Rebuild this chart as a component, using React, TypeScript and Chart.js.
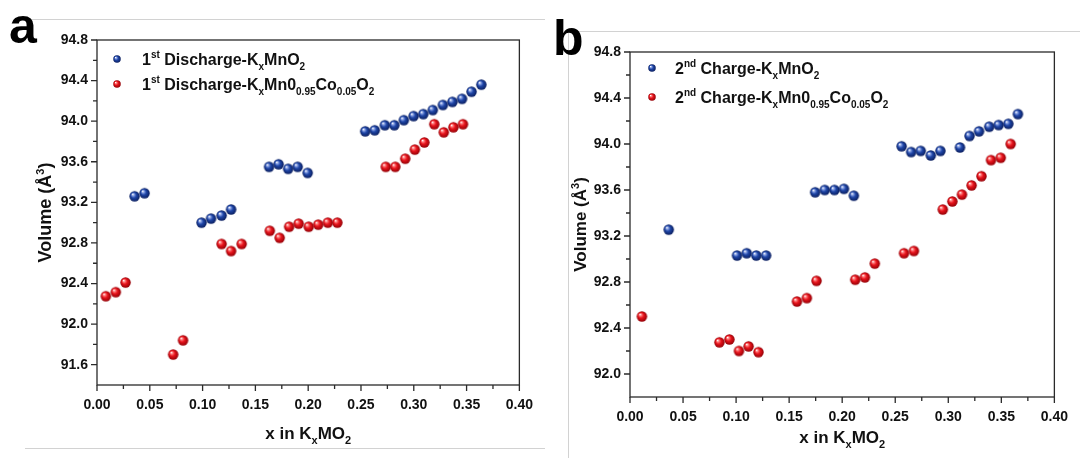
import React, { useEffect, useRef } from "react";
import { Chart, registerables } from "chart.js";

Chart.register(...registerables);

const FONT = 'Arial, "Liberation Sans", Helvetica, sans-serif';

// ---------- data ----------
const xTickValues = [0, 0.05, 0.1, 0.15, 0.2, 0.25, 0.3, 0.35, 0.4];
const yTickValuesA = [91.6, 92.0, 92.4, 92.8, 93.2, 93.6, 94.0, 94.4, 94.8];
const yTickValuesB = [92.0, 92.4, 92.8, 93.2, 93.6, 94.0, 94.4, 94.8];

// Panel a: 1st discharge
const aBlueX = [0.0356, 0.045, 0.099, 0.108, 0.118, 0.127, 0.163, 0.172, 0.181, 0.19, 0.1995, 0.254, 0.263, 0.2726, 0.2816, 0.2906, 0.2998, 0.309, 0.318, 0.3276, 0.3366, 0.3457, 0.3547, 0.364];
const aBlueY = [93.26, 93.29, 93.0, 93.04, 93.07, 93.13, 93.55, 93.575, 93.53, 93.55, 93.49, 93.9, 93.91, 93.96, 93.96, 94.01, 94.05, 94.07, 94.11, 94.16, 94.19, 94.22, 94.29, 94.36];
const aRedX = [0.0084, 0.0178, 0.027, 0.0721, 0.0815, 0.118, 0.127, 0.137, 0.1636, 0.173, 0.182, 0.191, 0.2005, 0.2095, 0.2186, 0.2276, 0.2735, 0.2825, 0.2919, 0.301, 0.31, 0.3194, 0.3284, 0.3375, 0.3466];
const aRedY = [92.275, 92.315, 92.41, 91.7, 91.84, 92.79, 92.72, 92.79, 92.92, 92.85, 92.96, 92.99, 92.96, 92.98, 93.0, 93.0, 93.55, 93.55, 93.63, 93.72, 93.79, 93.97, 93.89, 93.94, 93.97];

// Panel b: 2nd charge
const bBlueX = [0.0365, 0.1009, 0.11, 0.119, 0.1283, 0.1745, 0.1836, 0.1927, 0.2017, 0.211, 0.256, 0.265, 0.274, 0.2835, 0.2926, 0.311, 0.32, 0.329, 0.3386, 0.3475, 0.3566, 0.3656];
const bBlueY = [93.255, 93.03, 93.05, 93.03, 93.03, 93.58, 93.6, 93.6, 93.61, 93.55, 93.98, 93.93, 93.94, 93.9, 93.94, 93.97, 94.07, 94.11, 94.15, 94.165, 94.175, 94.26];
const bRedX = [0.0112, 0.0843, 0.0937, 0.1027, 0.1118, 0.1211, 0.1574, 0.1667, 0.1758, 0.2123, 0.2214, 0.2307, 0.2583, 0.2676, 0.2948, 0.3038, 0.3129, 0.322, 0.3313, 0.3403, 0.3494, 0.3588];
const bRedY = [92.5, 92.275, 92.3, 92.2, 92.24, 92.19, 92.63, 92.66, 92.81, 92.82, 92.84, 92.96, 93.05, 93.07, 93.43, 93.5, 93.56, 93.64, 93.72, 93.86, 93.88, 94.0];

type Seg = { t: string; m?: "sub" | "sup" };

const legendA: Seg[][] = [
  [{ t: "1" }, { t: "st", m: "sup" }, { t: " Discharge-K" }, { t: "x", m: "sub" }, { t: "MnO" }, { t: "2", m: "sub" }],
  [{ t: "1" }, { t: "st", m: "sup" }, { t: " Discharge-K" }, { t: "x", m: "sub" }, { t: "Mn0" }, { t: "0.95", m: "sub" }, { t: "Co" }, { t: "0.05", m: "sub" }, { t: "O" }, { t: "2", m: "sub" }],
];
const legendB: Seg[][] = [
  [{ t: "2" }, { t: "nd", m: "sup" }, { t: " Charge-K" }, { t: "x", m: "sub" }, { t: "MnO" }, { t: "2", m: "sub" }],
  [{ t: "2" }, { t: "nd", m: "sup" }, { t: " Charge-K" }, { t: "x", m: "sub" }, { t: "Mn0" }, { t: "0.95", m: "sub" }, { t: "Co" }, { t: "0.05", m: "sub" }, { t: "O" }, { t: "2", m: "sub" }],
];
const xTitle: Seg[] = [{ t: "x in K" }, { t: "x", m: "sub" }, { t: "MO" }, { t: "2", m: "sub" }];
const yTitle: Seg[] = [{ t: "Volume (Å" }, { t: "3", m: "sup" }, { t: ")" }];

// ---------- helpers ----------
function makeSprite(light: string, color: string, dark: string, d: number): HTMLCanvasElement {
  const c = document.createElement("canvas");
  const size = Math.ceil(d) + 2;
  c.width = size;
  c.height = size;
  const ctx = c.getContext("2d")!;
  const cx = size / 2, cy = size / 2, r = d / 2;
  const g = ctx.createRadialGradient(cx - r * 0.38, cy - r * 0.42, r * 0.04, cx, cy, r);
  g.addColorStop(0, "#ffffff");
  g.addColorStop(0.2, light);
  g.addColorStop(0.5, color);
  g.addColorStop(1, dark);
  ctx.fillStyle = g;
  ctx.beginPath();
  ctx.arc(cx, cy, r, 0, Math.PI * 2);
  ctx.fill();
  return c;
}

function segFont(size: number, small: number, s: Seg) {
  return `bold ${s.m ? small : size}px ${FONT}`;
}

function richWidth(ctx: CanvasRenderingContext2D, segs: Seg[], size: number, small: number) {
  let w = 0;
  for (const s of segs) {
    ctx.font = segFont(size, small, s);
    w += ctx.measureText(s.t).width;
  }
  return w;
}

function drawRich(ctx: CanvasRenderingContext2D, segs: Seg[], x: number, y: number, size: number, small: number, align: "left" | "center") {
  let cx = x;
  if (align === "center") cx = x - richWidth(ctx, segs, size, small) / 2;
  ctx.textAlign = "left";
  ctx.textBaseline = "alphabetic";
  ctx.fillStyle = "#111";
  for (const s of segs) {
    ctx.font = segFont(size, small, s);
    const dy = s.m === "sub" ? size * 0.3 : s.m === "sup" ? -size * 0.42 : 0;
    ctx.fillText(s.t, cx, y + dy);
    cx += ctx.measureText(s.t).width;
  }
}

type PanelCfg = {
  left: number;
  w: number;
  h: number;
  area: { l: number; r: number; t: number; b: number };
  yMin: number;
  yTicks: number[];
  blue: { x: number; y: number }[];
  red: { x: number; y: number }[];
  legend: Seg[][];
  legendX: number;
  legendY: number[];
  textX: number;
  letter: string;
  letterX: number;
  letterY: number;
  yTitleX: number;
  yTitleSize: number;
  xTitleY: number;
  xTitleSize: number;
};

function Panel({ cfg }: { cfg: PanelCfg }) {
  const ref = useRef<HTMLCanvasElement>(null);
  useEffect(() => {
    const blueSprite = makeSprite("#8ea6e6", "#1f46a8", "#0b1f60", 10.4);
    const redSprite = makeSprite("#ff8080", "#e8141c", "#940006", 10.4);
    const blueSmall = makeSprite("#8ea6e6", "#1f46a8", "#0b1f60", 7.5);
    const redSmall = makeSprite("#ff8080", "#e8141c", "#940006", 7.5);
    const AX = "#2a2a2a";

    const overlay = {
      id: "overlay",
      afterDraw(chart: any) {
        const ctx: CanvasRenderingContext2D = chart.ctx;
        const { left, right, top, bottom } = chart.chartArea;
        const xs = chart.scales.x;
        const ys = chart.scales.y;
        ctx.save();
        // frame
        ctx.strokeStyle = AX;
        ctx.lineWidth = 1.3;
        ctx.strokeRect(left, top, right - left, bottom - top);
        // x ticks
        ctx.beginPath();
        for (let i = 0; i < xTickValues.length; i++) {
          const px = xs.getPixelForValue(xTickValues[i]);
          ctx.moveTo(px, bottom);
          ctx.lineTo(px, bottom + 6);
          if (i < xTickValues.length - 1) {
            const mx = xs.getPixelForValue((xTickValues[i] + xTickValues[i + 1]) / 2);
            ctx.moveTo(mx, bottom);
            ctx.lineTo(mx, bottom + 4);
          }
        }
        // y ticks
        const yt = cfg.yTicks;
        for (let i = 0; i < yt.length; i++) {
          const py = ys.getPixelForValue(yt[i]);
          ctx.moveTo(left, py);
          ctx.lineTo(left - 6, py);
          if (i < yt.length - 1) {
            const my = ys.getPixelForValue((yt[i] + yt[i + 1]) / 2);
            ctx.moveTo(left, my);
            ctx.lineTo(left - 4, my);
          }
        }
        ctx.stroke();

        // legend
        const sprites = [blueSmall, redSmall];
        cfg.legend.forEach((segs, i) => {
          const sp = sprites[i];
          const my = cfg.legendY[i];
          ctx.drawImage(sp, Math.round(cfg.legendX - sp.width / 2), Math.round(my - sp.height / 2));
          drawRich(ctx, segs, cfg.textX, my + 5.8, 16, 10, "left");
        });

        // x title
        drawRich(ctx, xTitle, (left + right) / 2, cfg.xTitleY + cfg.xTitleSize * 0.36, cfg.xTitleSize, 11, "center");
        // y title
        ctx.save();
        ctx.translate(cfg.yTitleX, (top + bottom) / 2);
        ctx.rotate(-Math.PI / 2);
        drawRich(ctx, yTitle, 0, cfg.yTitleSize * 0.36, cfg.yTitleSize, 11, "center");
        ctx.restore();

        // panel letter
        ctx.font = `bold 50px ${FONT}`;
        ctx.fillStyle = "#000";
        ctx.textAlign = "left";
        ctx.textBaseline = "alphabetic";
        ctx.fillText(cfg.letter, cfg.letterX, cfg.letterY);
        ctx.restore();
      },
    };

    const chart = new Chart(ref.current!, {
      type: "scatter",
      data: {
        datasets: [
          {
            label: "blue",
            data: cfg.blue,
            pointStyle: blueSprite as any,
            pointRadius: 5,
            pointHoverRadius: 5,
          },
          {
            label: "red",
            data: cfg.red,
            pointStyle: redSprite as any,
            pointRadius: 5,
            pointHoverRadius: 5,
          },
        ],
      },
      options: {
        responsive: false,
        animation: false,
        devicePixelRatio: 1,
        events: [],
        layout: {
          padding: { left: 0, top: cfg.area.t, right: cfg.w - cfg.area.r, bottom: 0 },
        },
        plugins: {
          legend: { display: false },
          tooltip: { enabled: false },
          title: { display: false },
        },
        scales: {
          x: {
            type: "linear",
            min: 0,
            max: 0.4,
            afterBuildTicks: (s: any) => {
              s.ticks = xTickValues.map((v) => ({ value: v }));
            },
            afterFit: (s: any) => {
              s.height = cfg.h - cfg.area.b;
            },
            grid: { display: false, drawTicks: false },
            border: { display: false },
            ticks: {
              autoSkip: false,
              maxRotation: 0,
              padding: 12,
              color: "#111",
              font: { family: FONT, size: 14, weight: "bold" },
              callback: (v: any) => Number(v).toFixed(2),
            },
          },
          y: {
            type: "linear",
            min: cfg.yMin,
            max: 94.8,
            afterBuildTicks: (s: any) => {
              s.ticks = cfg.yTicks.map((v) => ({ value: v }));
            },
            afterFit: (s: any) => {
              s.width = cfg.area.l;
            },
            grid: { display: false, drawTicks: false },
            border: { display: false },
            ticks: {
              autoSkip: false,
              padding: 9,
              color: "#111",
              font: { family: FONT, size: 14, weight: "bold" },
              callback: (v: any) => Number(v).toFixed(1),
            },
          },
        },
      } as any,
      plugins: [overlay],
    });
    return () => chart.destroy();
  }, []);
  return (
    <canvas
      ref={ref}
      width={cfg.w}
      height={cfg.h}
      style={{ position: "absolute", left: cfg.left, top: 0, width: cfg.w, height: cfg.h }}
    />
  );
}

const zip = (xs: number[], ys: number[]) => xs.map((x, i) => ({ x, y: ys[i] }));

const panelA: PanelCfg = {
  left: 0,
  w: 545,
  h: 458,
  area: { l: 97, r: 524, t: 40, b: 385 },
  yMin: 91.4,
  yTicks: yTickValuesA,
  blue: zip(aBlueX, aBlueY),
  red: zip(aRedX, aRedY),
  legend: legendA,
  legendX: 117,
  legendY: [59, 84],
  textX: 142,
  letter: "a",
  letterX: 9,
  letterY: 43,
  yTitleX: 45,
  yTitleSize: 18,
  xTitleY: 433,
  xTitleSize: 17,
};

const panelB: PanelCfg = {
  left: 545,
  w: 535,
  h: 458,
  area: { l: 85, r: 512, t: 52, b: 397 },
  yMin: 91.8,
  yTicks: yTickValuesB,
  blue: zip(bBlueX, bBlueY),
  red: zip(bRedX, bRedY),
  legend: legendB,
  legendX: 107,
  legendY: [68, 97],
  textX: 130,
  letter: "b",
  letterX: 8,
  letterY: 55,
  yTitleX: 35,
  yTitleSize: 17,
  xTitleY: 437,
  xTitleSize: 17,
};

export default function App() {
  const line = "#d2d2d2";
  return (
    <div style={{ position: "absolute", left: 0, top: 0, width: 1080, height: 458, background: "#fff", overflow: "hidden" }}>
      <div style={{ position: "absolute", left: 25, top: 19, width: 520, height: 1, background: line }} />
      <div style={{ position: "absolute", left: 25, top: 448, width: 520, height: 1, background: line }} />
      <div style={{ position: "absolute", left: 568, top: 31, width: 512, height: 1, background: line }} />
      <div style={{ position: "absolute", left: 568, top: 31, width: 1, height: 427, background: line }} />
      <Panel cfg={panelA} />
      <Panel cfg={panelB} />
    </div>
  );
}
